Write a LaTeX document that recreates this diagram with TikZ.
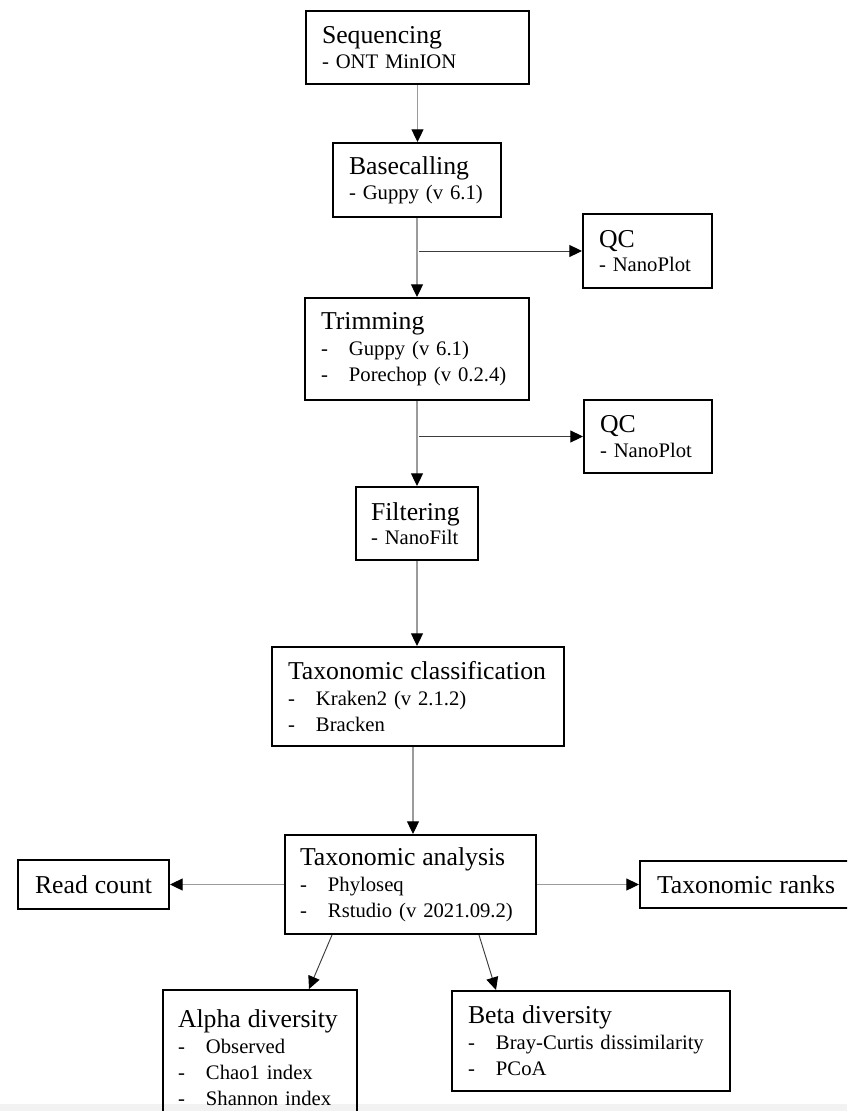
\documentclass[tikz,border=0pt]{standalone}
\usepackage{fontspec}
\setmainfont{Liberation Serif}
\usetikzlibrary{arrows.meta}
\definecolor{vgray}{HTML}{9B9B9B}
\definecolor{hgray}{HTML}{3C3C3C}
\newcommand\mytitle{\fontsize{19.3pt}{19.5pt}\selectfont}
\newcommand\mybody{\fontsize{15.5pt}{19.5pt}\selectfont}
\newcommand\itm[1]{\makebox[21pt][l]{-}#1}
\begin{document}
\begin{tikzpicture}[x=0.75pt,y=-0.75pt,
  box/.style={draw=black, line width=1.5pt, anchor=north west, align=left,
    inner xsep=12pt, inner ysep=0pt, fill=white, font=\mybody},
  tip/.style={-{Triangle[length=9.5pt,width=9pt,color=black]}},
  vline/.style={tip, draw=vgray, line width=0.8pt},
  hline/.style={tip, draw=hgray, line width=0.75pt},
  dline/.style={tip, draw=hgray, line width=0.7pt}]
\useasboundingbox (0,0) rectangle (847,1111);
\clip (0,0) rectangle (847,1111);
\fill[white] (0,0) rectangle (847,1111);

\node[box, minimum height=54.75pt, text width=143.25pt] (seq) at (305,10)
  {{\mytitle Sequencing}\\[-1pt]- ONT MinION};
\node[box, minimum height=55.5pt, text width=102pt] (base) at (332,142)
  {{\mytitle Basecalling}\\[-1pt]- Guppy (v 6.1)};
\node[box, minimum height=55.5pt, text width=72.75pt] (qc1) at (582,213)
  {{\mytitle QC}\\[-1pt]- NanoPlot};
\node[box, minimum height=76.5pt, text width=144pt] (trim) at (304,297)
  {{\mytitle Trimming}\\\itm{Guppy (v 6.1)}\\\itm{Porechop (v 0.2.4)}};
\node[box, minimum height=54.75pt, text width=72pt] (qc2) at (583,399)
  {{\mytitle QC}\\[-1pt]- NanoPlot};
\node[box, minimum height=54.75pt, inner xsep=11.25pt, text width=69pt] (filt) at (355,486)
  {{\mytitle Filtering}\\[-1pt]- NanoFilt};
\node[box, minimum height=74.25pt, text width=195pt] (taxc) at (271,646)
  {{\mytitle Taxonomic classification}\\\itm{Kraken2 (v 2.1.2)}\\\itm{Bracken}};
\node[box, minimum height=74.25pt, inner xsep=11.25pt, text width=165.75pt] (taxa) at (284,834)
  {{\mytitle Taxonomic analysis}\\\itm{Phyloseq}\\\itm{Rstudio (v 2021.09.2)}};
\node[box, minimum height=36.75pt, align=center, inner xsep=6pt, text width=101.25pt] (read) at (17,859)
  {\mytitle Read count};
\node[box, minimum height=35.25pt, inner xsep=12.75pt, text width=136.5pt] (ranks) at (639,860)
  {\mytitle Taxonomic ranks};
\node[box, minimum height=101.25pt, inner xsep=11.25pt, text width=123pt] (alpha) at (162,989)
  {{\mytitle Alpha diversity}\\\itm{Observed}\\\itm{Chao1 index}\\\itm{Shannon index}};
\node[box, minimum height=75pt, text width=184.5pt] (beta) at (451,990)
  {{\mytitle Beta diversity}\\\itm{Bray-Curtis dissimilarity}\\\itm{PCoA}};

\draw[vline] (seq.south) -- (seq.south |- base.north);
\draw[vline] (base.south) -- (base.south |- trim.north);
\draw[hline] ([xshift=1.5pt]base.south |- qc1.west) -- (qc1.west);
\draw[vline] (trim.south) -- (trim.south |- filt.north);
\draw[hline] ([xshift=1.5pt]trim.south |- qc2.west) -- (qc2.west);
\draw[vline] (filt.south) -- (filt.south |- taxc.north);
\draw[vline] ([xshift=-3.75pt]taxc.south) -- ([xshift=-3.75pt]taxc.south |- taxa.north);
\draw[vline] (taxa.west) -- (read.east);
\draw[vline] (taxa.east) -- (ranks.west);
\draw[dline] ([xshift=36pt]taxa.south west) -- ([xshift=110.25pt]alpha.north west);
\draw[dline] ([xshift=-43.5pt]taxa.south east) -- ([xshift=33.75pt]beta.north west);

\fill[black, opacity=0.05] (0,1104) rectangle (847,1111);
\end{tikzpicture}
\end{document}
